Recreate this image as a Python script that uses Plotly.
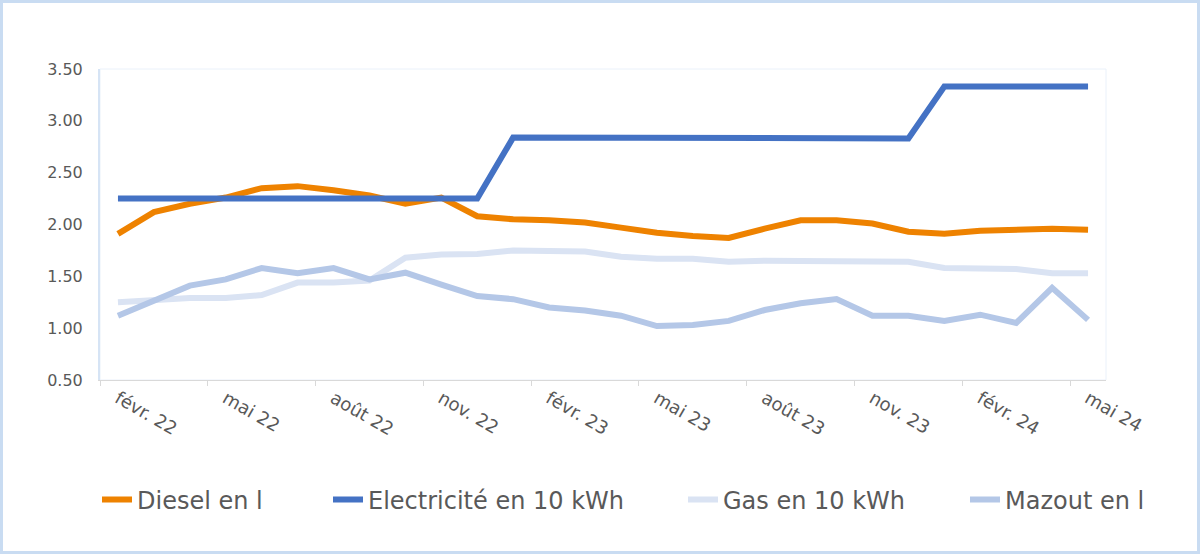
import plotly.graph_objects as go

months = ["févr. 22", "mars 22", "avr. 22", "mai 22", "juin 22", "juil. 22", "août 22", "sept. 22",
          "oct. 22", "nov. 22", "déc. 22", "janv. 23", "févr. 23", "mars 23", "avr. 23", "mai 23",
          "juin 23", "juil. 23", "août 23", "sept. 23", "oct. 23", "nov. 23", "déc. 23", "janv. 24",
          "févr. 24", "mars 24", "avr. 24", "mai 24"]

diesel = [1.91, 2.12, 2.20, 2.26, 2.35, 2.37, 2.33, 2.28, 2.20, 2.26, 2.08, 2.05, 2.04, 2.02,
          1.97, 1.92, 1.89, 1.87, 1.96, 2.04, 2.04, 2.01, 1.93, 1.91, 1.94, 1.95, 1.96, 1.95]
electricite = [2.25, 2.25, 2.25, 2.25, 2.25, 2.25, 2.25, 2.25, 2.25, 2.25, 2.25, 2.84, 2.84, 2.84,
               2.84, 2.84, 2.83, 2.83, 2.83, 2.83, 2.83, 2.83, 2.83, 3.33, 3.33, 3.33, 3.33, 3.33]
gas = [1.25, 1.27, 1.29, 1.29, 1.32, 1.44, 1.44, 1.46, 1.68, 1.71, 1.715, 1.75, 1.75, 1.74,
       1.69, 1.67, 1.67, 1.64, 1.65, 1.65, 1.64, 1.64, 1.64, 1.58, 1.58, 1.57, 1.53, 1.53]
mazout = [1.12, 1.27, 1.41, 1.47, 1.58, 1.53, 1.58, 1.47, 1.535, 1.42, 1.31, 1.28, 1.20, 1.17,
          1.12, 1.02, 1.03, 1.07, 1.175, 1.24, 1.28, 1.12, 1.12, 1.07, 1.13, 1.05, 1.39, 1.08]

series_names = ["Diesel en l", "Electricité en 10 kWh", "Gas en 10 kWh", "Mazout en l"]
series_values = [diesel, electricite, gas, mazout]
colors = ["#EE8200", "#4472C4", "#DAE3F3", "#B4C7E7"]

y_ticks = [0.5, 1.0, 1.5, 2.0, 2.5, 3.0, 3.5]

x = list(range(len(months)))
label_idx = list(range(0, len(months), 3))

W, H = 1200, 554
L, R, T, B = 100, 94, 69, 174
pw, ph = W - L - R, H - T - B

legend_ids = ["legend", "legend2", "legend3", "legend4"]
legend_left_px = [97, 328, 683, 965]

fig = go.Figure()
for name, vals, col, lid in zip(series_names, series_values, colors, legend_ids):
    fig.add_trace(go.Scatter(x=x, y=vals, mode="lines", name=name, legend=lid,
                             line=dict(color=col, width=6),
                             hovertemplate="%{text}: %{y:.2f}<extra>" + name + "</extra>",
                             text=months))

legend_style = dict(orientation="h", yanchor="middle", y=(T + ph - 500) / ph, xanchor="left",
                    font=dict(size=24, color="#595959"), bgcolor="rgba(0,0,0,0)",
                    borderwidth=0)
legends = {}
for lid, px in zip(legend_ids, legend_left_px):
    legends[lid] = dict(legend_style, x=(px - L) / pw)

fig.update_layout(
    width=W, height=H,
    margin=dict(l=L, r=R, t=T, b=B),
    paper_bgcolor="white", plot_bgcolor="white",
    font=dict(family="DejaVu Sans, Verdana, sans-serif", color="#595959", size=16),
    showlegend=True,
    xaxis=dict(range=[-0.5, len(months) - 0.5], tickmode="array",
               tickvals=[x[i] for i in label_idx], ticktext=[months[i] for i in label_idx],
               tickangle=30, ticks="", showgrid=False, zeroline=False,
               showline=True, linecolor="#D9D9D9", linewidth=1,
               minor=dict(tickmode="linear", tick0=-0.5, dtick=3, ticks="outside",
                          ticklen=5, tickcolor="#D9D9D9", showgrid=False),
               tickfont=dict(size=18, color="#595959")),
    yaxis=dict(range=[0.5, 3.5], tickmode="array", tickvals=y_ticks,
               ticktext=[f"{v:.2f}" for v in y_ticks], ticks="", showgrid=False,
               zeroline=False, showline=True, linecolor="#D6E4F5", linewidth=2,
               ticklabelstandoff=12, tickfont=dict(size=16, color="#595959")),
    shapes=[
        dict(type="rect", xref="paper", yref="paper", x0=0, x1=1, y0=0, y1=1,
             line=dict(color="#EAF1FA", width=1), layer="below"),
        dict(type="rect", xref="paper", yref="paper",
             x0=(1.5 - L) / pw, x1=(W - 1.5 - L) / pw,
             y0=(T + ph - (H - 1.5)) / ph, y1=(T + ph - 1.5) / ph,
             line=dict(color="#C9DCF2", width=3), layer="below"),
    ],
    **legends,
)

fig.write_html("out.html")
